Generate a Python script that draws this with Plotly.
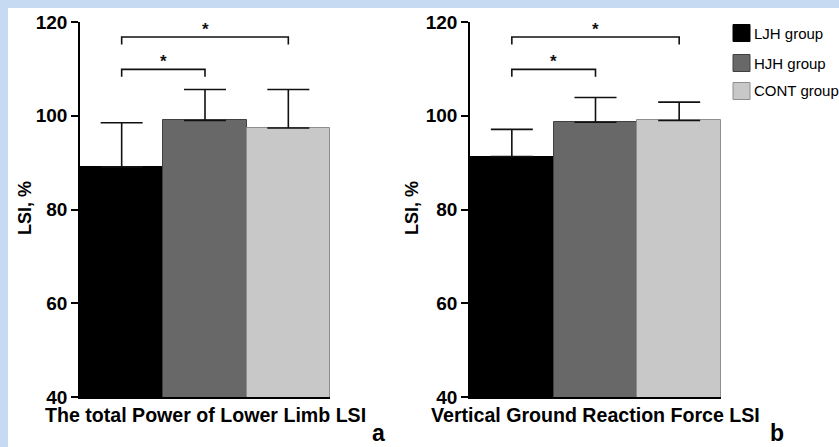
import plotly.graph_objects as go

# ---------------- data ----------------
groups = ["LJH group", "HJH group", "CONT group"]
group_x = [0, 1, 2]
power_mean = [89.1, 99.0, 97.4]
power_sd = [9.4, 6.6, 8.2]
vgrf_mean = [91.3, 98.6, 99.0]
vgrf_sd = [5.8, 5.3, 3.9]
panel_titles = ["The total Power of Lower Limb LSI", "Vertical Ground Reaction Force LSI"]
panel_letters = ["a", "b"]
y_ticks = [40, 60, 80, 100, 120]
sig_pairs = [(0, 1), (0, 2)]
sig_heights = [109.9, 116.8]
sig_drop = 1.6
sig_marks = ["*", "*"]

# ---------------- styling ----------------
W, H = 839, 447
FONT = "Liberation Sans, Arial, sans-serif"
bar_colors = ["#000000", "#686868", "#c8c8c8"]
bar_edges = ["#000000", "#404040", "#8e8e8e"]

def px_x(p):
    return p / W

def px_y(p):
    return 1 - p / H

y_dom = [px_y(397), px_y(22)]
x_doms = [[px_x(80), px_x(330)], [px_x(470), px_x(721)]]

fig = go.Figure()
panels = [(power_mean, power_sd), (vgrf_mean, vgrf_sd)]
annotations = []
for i, (means, sds) in enumerate(panels):
    xa = "x" if i == 0 else "x2"
    ya = "y" if i == 0 else "y2"
    fig.add_trace(go.Bar(
        x=group_x, y=means, width=1.0,
        marker=dict(color=bar_colors, line=dict(color=bar_edges, width=1)),
        error_y=dict(type="data", array=sds, arrayminus=[0] * len(sds), symmetric=False,
                     color="#111111", thickness=1.6, width=21),
        xaxis=xa, yaxis=ya, showlegend=False, hoverinfo="skip",
    ))
    for (a, b), h, m in zip(sig_pairs, sig_heights, sig_marks):
        fig.add_trace(go.Scatter(
            x=[group_x[a], group_x[a], group_x[b], group_x[b]],
            y=[h - sig_drop, h, h, h - sig_drop],
            mode="lines", line=dict(color="#111111", width=1.6),
            xaxis=xa, yaxis=ya, showlegend=False, hoverinfo="skip",
        ))
        annotations.append(dict(
            x=(group_x[a] + group_x[b]) / 2, y=h, xref=xa, yref=ya,
            text="<b>" + m + "</b>", showarrow=False, yanchor="bottom",
            yshift=-4, font=dict(family=FONT, size=17, color="#111111"),
        ))
    dom = x_doms[i]
    annotations.append(dict(
        x=(dom[0] + dom[1]) / 2, y=px_y(414.5), xref="paper", yref="paper",
        text="<b>" + panel_titles[i] + "</b>", showarrow=False,
        xanchor="center", yanchor="middle",
        font=dict(family=FONT, size=19.6, color="#000000"),
    ))
    annotations.append(dict(
        x=px_x(25 if i == 0 else 412), y=px_y(208), xref="paper", yref="paper",
        text="<b>LSI, %</b>", showarrow=False, textangle=-90,
        xanchor="center", yanchor="middle",
        font=dict(family=FONT, size=18, color="#000000"),
    ))
    annotations.append(dict(
        x=px_x(378 if i == 0 else 777), y=0, xref="paper", yref="paper",
        text="<b>" + panel_letters[i] + "</b>", showarrow=False,
        xanchor="center", yanchor="bottom", borderpad=0,
        font=dict(family=FONT, size=23, color="#000000"),
    ))

axis_common_x = dict(range=[-0.5, 2.5], showline=True, linecolor="#000000", linewidth=1.6,
                     showticklabels=False, ticks="", showgrid=False, zeroline=False,
                     fixedrange=True, automargin=False)
axis_common_y = dict(range=[40, 120], tickvals=y_ticks, showline=True, linecolor="#000000",
                     linewidth=1.6, ticks="outside", ticklen=7, tickwidth=1.6,
                     tickcolor="#000000", showgrid=False, zeroline=False,
                     tickfont=dict(family=FONT, size=19, color="#000000", weight="bold"),
                     fixedrange=True, domain=y_dom, automargin=False)

shapes = [dict(type="rect", xref="paper", yref="paper", x0=px_x(8), x1=1.01, y0=-0.01, y1=px_y(8),
               fillcolor="#ffffff", line=dict(width=0), layer="below")]
leg_rows = [33, 63, 91]
for g, c, e, r in zip(groups, bar_colors, bar_edges, leg_rows):
    shapes.append(dict(type="rect", xref="paper", yref="paper",
                       x0=px_x(733), x1=px_x(750), y0=px_y(r + 8.5), y1=px_y(r - 8.5),
                       fillcolor=c, line=dict(color=e, width=1)))
    annotations.append(dict(x=px_x(752), y=px_y(r), xref="paper", yref="paper",
                            text=g, showarrow=False, xanchor="left", yanchor="middle",
                            font=dict(family=FONT, size=15, color="#000000")))

fig.update_layout(
    width=W, height=H, margin=dict(l=0, r=0, t=0, b=0, pad=0),
    paper_bgcolor="#c6daf1", plot_bgcolor="rgba(0,0,0,0)",
    bargap=0, showlegend=False,
    xaxis=dict(axis_common_x, domain=x_doms[0], anchor="y"),
    yaxis=dict(axis_common_y, anchor="x"),
    xaxis2=dict(axis_common_x, domain=x_doms[1], anchor="y2"),
    yaxis2=dict(axis_common_y, anchor="x2"),
    shapes=shapes, annotations=annotations,
)

fig.write_html(
    "out.html",
    config={"displayModeBar": False},
    post_script="document.body.style.margin='0';document.body.style.overflow='hidden';",
)
